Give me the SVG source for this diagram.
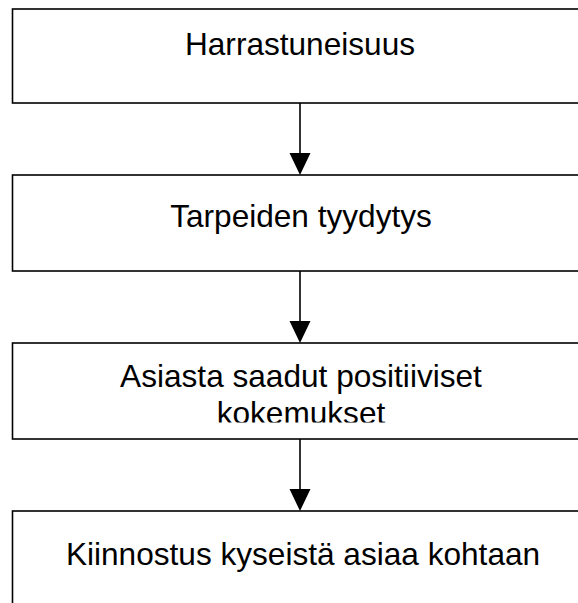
<svg xmlns="http://www.w3.org/2000/svg" width="578" height="603" viewBox="0 0 578 603">
  <style>
    .box { fill: #ffffff; stroke: #000000; stroke-width: 1.6; }
    .label { font-family: "Liberation Sans", Arial, sans-serif; font-size: 31.6px; fill: #000000; text-anchor: middle; }
    .edge { stroke: #000000; stroke-width: 1.6; fill: none; }
    .head { fill: #000000; stroke: none; }
  </style>
  <defs>
    <clipPath id="clip-kokemus">
      <rect x="12" y="343" width="600" height="79.5"/>
    </clipPath>
  </defs>
  <rect x="0" y="0" width="578" height="603" fill="#ffffff"/>

  <g id="node-harrastuneisuus">
    <rect class="box" x="12.5" y="9" width="600" height="94"/>
    <text class="label" x="300" y="55">Harrastuneisuus</text>
  </g>

  <g id="node-tarpeiden">
    <rect class="box" x="12.5" y="175" width="600" height="96"/>
    <text class="label" x="301" y="226.5">Tarpeiden tyydytys</text>
  </g>

  <g id="node-kokemukset">
    <rect class="box" x="12.5" y="343" width="600" height="96"/>
    <g clip-path="url(#clip-kokemus)">
      <text class="label" x="301" y="387">Asiasta saadut positiiviset</text>
      <text class="label" x="301" y="424">kokemukset</text>
    </g>
  </g>

  <g id="node-kiinnostus">
    <rect class="box" x="12.5" y="511" width="600" height="120"/>
    <text class="label" x="303" y="565">Kiinnostus kyseistä asiaa kohtaan</text>
  </g>

  <g id="connectors">
    <line class="edge" x1="300" y1="103" x2="300" y2="154"/>
    <polygon class="head" points="289.5,153 310.5,153 300,175"/>
    <line class="edge" x1="300" y1="271" x2="300" y2="322"/>
    <polygon class="head" points="289.5,321 310.5,321 300,343"/>
    <line class="edge" x1="300" y1="439" x2="300" y2="490"/>
    <polygon class="head" points="289.5,489 310.5,489 300,511"/>
  </g>
</svg>
